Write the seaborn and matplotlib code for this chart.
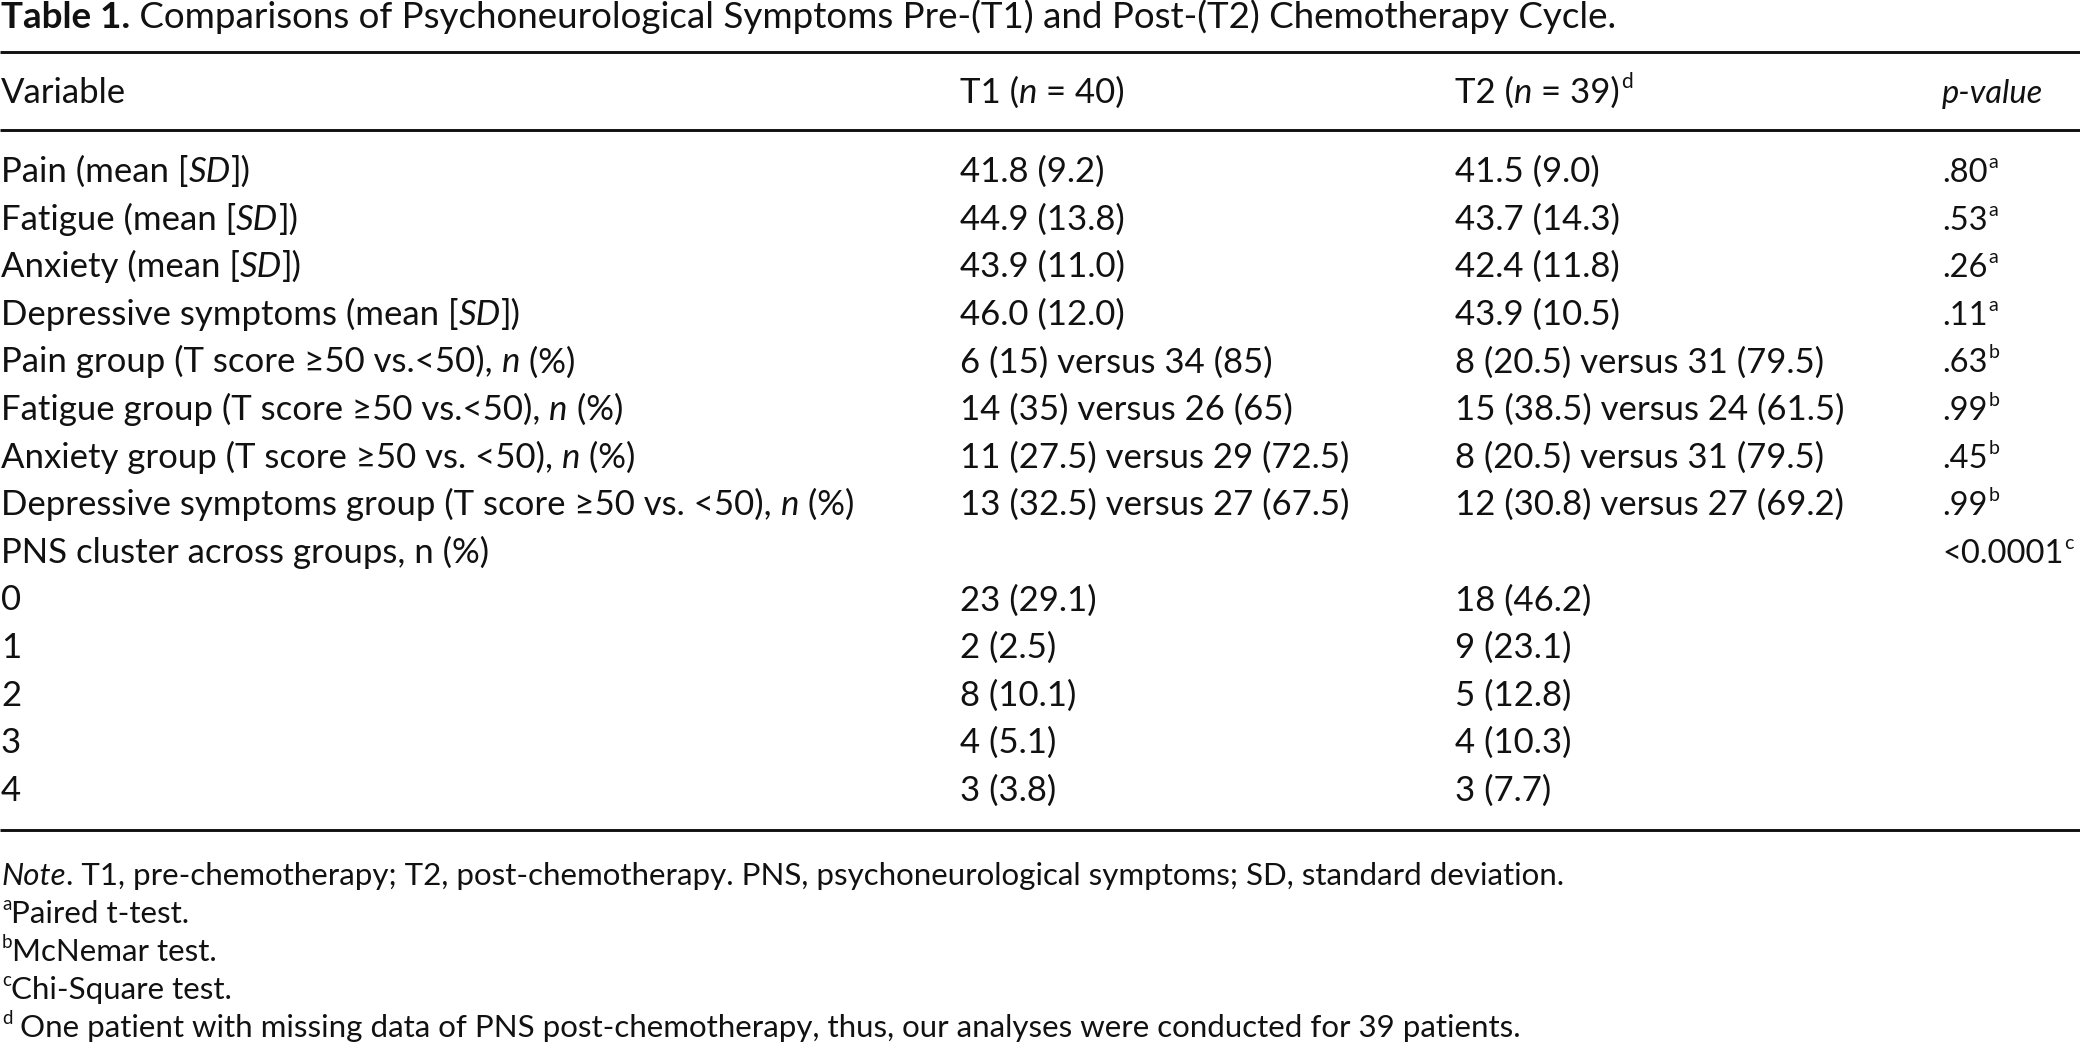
import matplotlib
matplotlib.use("Agg")
import matplotlib.pyplot as plt
import seaborn as sns

# ---------------- TABLE CONTENT ---------------- #
title_bold = "Table 1."
title_rest = " Comparisons of Psychoneurological Symptoms Pre-(T1) and Post-(T2) Chemotherapy Cycle."

# each label is a list of (text, style) pieces, style: rm / it / sup
variables = [
    [("Pain (mean [", "rm"), ("SD", "it"), ("])", "rm")],
    [("Fatigue (mean [", "rm"), ("SD", "it"), ("])", "rm")],
    [("Anxiety (mean [", "rm"), ("SD", "it"), ("])", "rm")],
    [("Depressive symptoms (mean [", "rm"), ("SD", "it"), ("])", "rm")],
    [("Pain group (T score \u226550 vs.<50), ", "rm"), ("n", "it"), (" (%)", "rm")],
    [("Fatigue group (T score \u226550 vs.<50), ", "rm"), ("n", "it"), (" (%)", "rm")],
    [("Anxiety group (T score \u226550 vs. <50), ", "rm"), ("n", "it"), (" (%)", "rm")],
    [("Depressive symptoms group (T score \u226550 vs. <50), ", "rm"), ("n", "it"), (" (%)", "rm")],
    [("PNS cluster across groups, n (%)", "rm")],
    [("0", "rm")],
    [("1", "rm")],
    [("2", "rm")],
    [("3", "rm")],
    [("4", "rm")],
]
t1_values = ["41.8 (9.2)", "44.9 (13.8)", "43.9 (11.0)", "46.0 (12.0)",
             "6 (15) versus 34 (85)", "14 (35) versus 26 (65)",
             "11 (27.5) versus 29 (72.5)", "13 (32.5) versus 27 (67.5)",
             "", "23 (29.1)", "2 (2.5)", "8 (10.1)", "4 (5.1)", "3 (3.8)"]
t2_values = ["41.5 (9.0)", "43.7 (14.3)", "42.4 (11.8)", "43.9 (10.5)",
             "8 (20.5) versus 31 (79.5)", "15 (38.5) versus 24 (61.5)",
             "8 (20.5) versus 31 (79.5)", "12 (30.8) versus 27 (69.2)",
             "", "18 (46.2)", "9 (23.1)", "5 (12.8)", "4 (10.3)", "3 (7.7)"]
p_values = [".80", ".53", ".26", ".11", ".63", ".99", ".45", ".99", "<0.0001",
            "", "", "", "", ""]
p_marks = ["a", "a", "a", "a", "b", "b", "b", "b", "c", "", "", "", "", ""]

headers = [
    [("Variable", "rm")],
    [("T1 (", "rm"), ("n", "it"), (" = 40)", "rm")],
    [("T2 (", "rm"), ("n", "it"), (" = 39)", "rm"), ("d", "sup")],
    [("p-value", "it")],
]
notes = [
    [("Note", "it"), (". T1, pre-chemotherapy; T2, post-chemotherapy. PNS, psychoneurological symptoms; SD, standard deviation.", "rm")],
    [("a", "sup"), ("Paired t-test.", "rm")],
    [("b", "sup"), ("McNemar test.", "rm")],
    [("c", "sup"), ("Chi-Square test.", "rm")],
    [("d", "sup"), (" One patient with missing data of PNS post-chemotherapy, thus, our analyses were conducted for 39 patients.", "rm")],
]

# ---------------- STYLE ---------------- #
sns.set_theme(style="white")
plt.rcParams["font.family"] = ["Lato", "DejaVu Sans"]

W, H = 2080, 1043
FAMILY = ["Lato", "DejaVu Sans"]
TITLE = 26.5
BODY = 25
PCOL = 23.5
NOTE = 22.5
INK = "#111111"

fig = plt.figure(figsize=(W / 100, H / 100), dpi=100)
ax = fig.add_axes([0, 0, 1, 1])
ax.set_xlim(0, W)
ax.set_ylim(H, 0)
ax.axis("off")
renderer = fig.canvas.get_renderer()


def seg_width(text, size, style, weight):
    # measure with guards so leading/trailing spaces count
    kw = dict(fontsize=size, family=FAMILY, style=style, weight=weight)
    t1 = ax.text(0, 0, "x" + text + "x", **kw)
    t2 = ax.text(0, 0, "xx", **kw)
    w = t1.get_window_extent(renderer).width - t2.get_window_extent(renderer).width
    t1.remove()
    t2.remove()
    return w


def draw_rich(x, y, pieces, size, weight="normal"):
    for text, kind in pieces:
        if kind == "sup":
            s = size * 0.6
            ax.text(x + 1, y - size * 0.6, text, fontsize=s, family=FAMILY,
                    va="baseline", ha="left", color=INK)
            x += seg_width(text, s, "normal", "normal") + 1
        else:
            st = "italic" if kind == "it" else "normal"
            wt = "bold" if kind == "bf" else weight
            ax.text(x, y, text, fontsize=size, family=FAMILY, style=st,
                    weight=wt, va="baseline", ha="left", color=INK)
            x += seg_width(text, size, st, wt)
    return x


col_x = [1, 960, 1455, 1942]

# title
draw_rich(1, 28, [(title_bold, "bf"), (title_rest, "rm")], TITLE)

# rules
for yy in (52, 130, 830):
    ax.hlines(yy, 0, W, color=INK, linewidth=2.1)

# header
for k, (cx, pieces) in enumerate(zip(col_x, headers)):
    draw_rich(cx, 103, pieces, PCOL if k == 3 else BODY)

# body rows
row0, step = 182, 47.6
for i in range(len(variables)):
    y = row0 + i * step
    draw_rich(col_x[0], y, variables[i], BODY)
    draw_rich(col_x[1], y, [(t1_values[i], "rm")], BODY)
    draw_rich(col_x[2], y, [(t2_values[i], "rm")], BODY)
    if p_values[i]:
        draw_rich(col_x[3], y, [(p_values[i], "rm"), (p_marks[i], "sup")], PCOL)

# notes
for j, pieces in enumerate(notes):
    draw_rich(1, 885 + j * 38, pieces, NOTE)

fig.savefig("out.png", dpi=100)
